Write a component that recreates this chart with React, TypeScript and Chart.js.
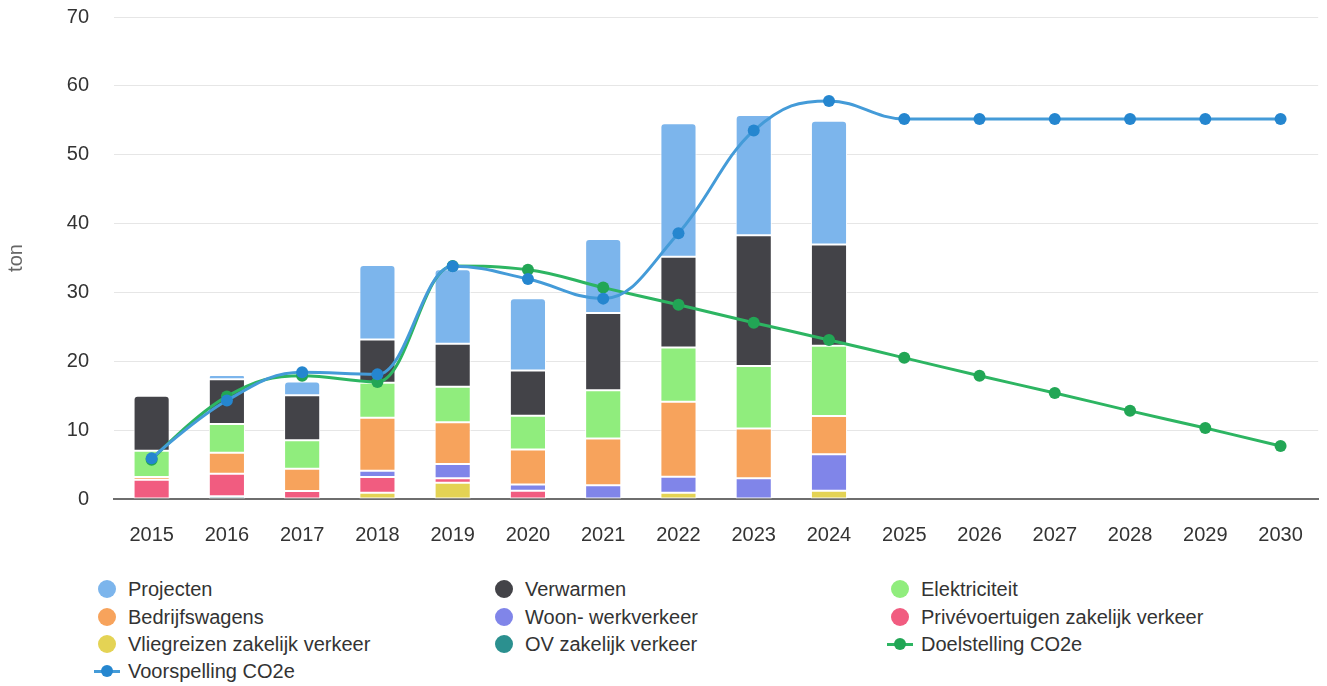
import React, { useEffect, useRef } from 'react';
import { Chart, registerables } from 'chart.js';

Chart.register(...registerables);

const years = ['2015', '2016', '2017', '2018', '2019', '2020', '2021', '2022', '2023', '2024', '2025', '2026', '2027', '2028', '2029', '2030'];

// Stacked bar components (bottom to top)
const ovZakelijk = [0, 0.4, 0, 0, 0, 0, 0, 0, 0, 0, null, null, null, null, null, null];
const vliegreizen = [0, 0, 0, 0.9, 2.35, 0, 0, 0.9, 0, 1.2, null, null, null, null, null, null];
const privevoertuigen = [2.8, 3.25, 1.15, 2.3, 0.65, 1.2, 0, 0, 0, 0, null, null, null, null, null, null];
const woonWerk = [0, 0, 0, 0.9, 2.1, 0.9, 2.0, 2.32, 3.0, 5.3, null, null, null, null, null, null];
const bedrijfswagens = [0.4, 3.05, 3.25, 7.7, 6.05, 5.1, 6.8, 10.9, 7.25, 5.55, null, null, null, null, null, null];
const elektriciteit = [3.8, 4.2, 4.15, 5.1, 5.15, 4.9, 7.0, 7.9, 9.05, 10.2, null, null, null, null, null, null];
const verwarmen = [8.0, 6.5, 6.5, 6.25, 6.25, 6.55, 11.2, 13.15, 19.0, 14.7, null, null, null, null, null, null];
const projecten = [0, 0.6, 2.0, 10.85, 10.8, 10.5, 10.75, 19.4, 17.45, 18.0, null, null, null, null, null, null];

// Lines
const voorspelling = [5.9, 14.3, 18.4, 18.1, 33.8, 31.95, 29.1, 38.6, 53.5, 57.8, 55.2, 55.2, 55.2, 55.2, 55.2, 55.2];
const doelstelling = [5.7, 14.9, 17.9, 17.0, 33.85, 33.3, 30.7, 28.2, 25.6, 23.1, 20.5, 17.9, 15.4, 12.8, 10.3, 7.7];

const yTicks = [0, 10, 20, 30, 40, 50, 60, 70];

const FONT = '"Liberation Sans", Arial, Helvetica, sans-serif';

const barSeries = [
  { label: 'OV zakelijk verkeer', data: ovZakelijk, color: '#2b908f' },
  { label: 'Vliegreizen zakelijk verkeer', data: vliegreizen, color: '#e4d354' },
  { label: 'Privévoertuigen zakelijk verkeer', data: privevoertuigen, color: '#f15c80' },
  { label: 'Woon- werkverkeer', data: woonWerk, color: '#8085e9' },
  { label: 'Bedrijfswagens', data: bedrijfswagens, color: '#f7a35c' },
  { label: 'Elektriciteit', data: elektriciteit, color: '#90ed7d' },
  { label: 'Verwarmen', data: verwarmen, color: '#434348' },
  { label: 'Projecten', data: projecten, color: '#7cb5ec' },
];

const lineSeries = [
  { label: 'Doelstelling CO2e', data: doelstelling, line: '#2db562', point: '#22a655', order: 1 },
  { label: 'Voorspelling CO2e', data: voorspelling, line: '#449bd8', point: '#2586cf', order: 0 },
];

const legendItems = [
  { label: 'Projecten', color: '#7cb5ec', kind: 'dot' },
  { label: 'Verwarmen', color: '#434348', kind: 'dot' },
  { label: 'Elektriciteit', color: '#90ed7d', kind: 'dot' },
  { label: 'Bedrijfswagens', color: '#f7a35c', kind: 'dot' },
  { label: 'Woon- werkverkeer', color: '#8085e9', kind: 'dot' },
  { label: 'Privévoertuigen zakelijk verkeer', color: '#f15c80', kind: 'dot' },
  { label: 'Vliegreizen zakelijk verkeer', color: '#e4d354', kind: 'dot' },
  { label: 'OV zakelijk verkeer', color: '#2b908f', kind: 'dot' },
  { label: 'Doelstelling CO2e', color: '#2db562', point: '#22a655', kind: 'line' },
  { label: 'Voorspelling CO2e', color: '#449bd8', point: '#2586cf', kind: 'line' },
];

const legendColX = [107, 504, 900];
const legendRowY = [589, 616.5, 644, 671];

function topRadius(ctx: any) {
  const i = ctx.dataIndex;
  let top = -1;
  ctx.chart.data.datasets.forEach((ds: any, di: number) => {
    if (ds.type === 'bar' && ds.data[i]) top = di;
  });
  return ctx.datasetIndex === top ? { topLeft: 4, topRight: 4, bottomLeft: 0, bottomRight: 0 } : 0;
}

// Spline smoothing in the style of the source chart (control points at 1/2.5 of the
// neighbour distance, clamped so no false extremes appear between points).
const splinePlugin = {
  id: 'splineSmoothing',
  beforeDatasetDraw(chart: any, args: any) {
    const meta = args.meta;
    if (meta.type !== 'line' || !meta.dataset) return;
    const line = meta.dataset;
    if (typeof line.updateControlPoints === 'function') line.updateControlPoints(chart.chartArea, 'x');
    const pts = meta.data;
    const n = pts.length;
    const sm = 1.5;
    const den = sm + 1;
    for (let i = 0; i < n; i++) {
      const p = pts[i];
      if (i === 0 || i === n - 1) {
        p.cp1x = p.x; p.cp1y = p.y; p.cp2x = p.x; p.cp2y = p.y;
        continue;
      }
      const l = pts[i - 1];
      const nx = pts[i + 1];
      const lcx = (sm * p.x + l.x) / den;
      let lcy = (sm * p.y + l.y) / den;
      const rcx = (sm * p.x + nx.x) / den;
      let rcy = (sm * p.y + nx.y) / den;
      let corr = 0;
      if (rcx !== lcx) corr = ((rcy - lcy) * (rcx - p.x)) / (rcx - lcx) + p.y - rcy;
      lcy += corr;
      rcy += corr;
      if (lcy > l.y && lcy > p.y) { lcy = Math.max(l.y, p.y); rcy = 2 * p.y - lcy; }
      else if (lcy < l.y && lcy < p.y) { lcy = Math.min(l.y, p.y); rcy = 2 * p.y - lcy; }
      if (rcy > nx.y && rcy > p.y) { rcy = Math.max(nx.y, p.y); lcy = 2 * p.y - rcy; }
      else if (rcy < nx.y && rcy < p.y) { rcy = Math.min(nx.y, p.y); lcy = 2 * p.y - rcy; }
      p.cp1x = lcx; p.cp1y = lcy; p.cp2x = rcx; p.cp2y = rcy;
    }
    line._path = undefined;
  },
};

export default function App() {
  const ref = useRef<HTMLCanvasElement | null>(null);

  useEffect(() => {
    if (!ref.current) return;
    const datasets: any[] = [
      ...barSeries.map((s) => ({
        type: 'bar',
        label: s.label,
        data: s.data,
        backgroundColor: s.color,
        borderColor: '#ffffff',
        borderWidth: 1,
        borderSkipped: false,
        borderRadius: topRadius,
        stack: 'bars',
        order: 2,
        barPercentage: 0.48,
        categoryPercentage: 1,
      })),
      ...lineSeries.map((s) => ({
        type: 'line',
        label: s.label,
        data: s.data,
        borderColor: s.line,
        backgroundColor: s.point,
        pointBackgroundColor: s.point,
        pointBorderWidth: 0,
        pointRadius: 6,
        borderWidth: 3,
        tension: 0.4,
        fill: false,
        stack: 'line-' + s.label,
        order: s.order,
      })),
    ];

    const chart = new Chart(ref.current, {
      type: 'bar',
      data: { labels: years, datasets },
      plugins: [splinePlugin],
      options: {
        animation: false,
        responsive: false,
        devicePixelRatio: 1,
        layout: { padding: { top: 17, right: 5, left: 0, bottom: 0 } },
        plugins: {
          legend: { display: false },
          tooltip: { enabled: false },
        },
        scales: {
          x: {
            stacked: true,
            grid: { display: false, drawTicks: false },
            border: { display: true, color: '#6e6e6e', width: 2 },
            ticks: { color: '#333333', font: { family: FONT, size: 20 }, padding: 24, maxRotation: 0, autoSkip: false },
            afterFit: (scale: any) => { scale.height = 61; scale.paddingTop = 0; },
          },
          y: {
            stacked: true,
            min: yTicks[0],
            max: yTicks[yTicks.length - 1],
            afterBuildTicks: (scale: any) => { scale.ticks = yTicks.map((v) => ({ value: v })); },
            grid: { color: '#e6e6e6', drawTicks: false, lineWidth: 1 },
            border: { display: false },
            ticks: { color: '#333333', font: { family: FONT, size: 20 }, padding: 25 },
            title: { display: true, text: 'ton', color: '#666666', font: { family: FONT, size: 20 }, padding: { top: 4, bottom: 0 } },
            afterFit: (scale: any) => { scale.width = 114; scale.paddingTop = 0; scale.paddingBottom = 0; },
          },
        },
      },
    });
    return () => chart.destroy();
  }, []);

  return (
    <div style={{ position: 'absolute', left: 0, top: 0, width: 1327, height: 686, background: '#fff', fontFamily: FONT }}>
      <canvas ref={ref} width={1327} height={560} style={{ width: 1327, height: 560, display: 'block' }} />
      {legendItems.map((it, idx) => {
        const col = idx % 3;
        const row = Math.floor(idx / 3);
        const cx = legendColX[col];
        const cy = legendRowY[row];
        return (
          <div key={it.label} style={{ position: 'absolute', left: cx - 13, top: cy - 14, height: 28, display: 'flex', alignItems: 'center', whiteSpace: 'nowrap' }}>
            <div style={{ position: 'relative', width: 26, height: 28, flex: 'none' }}>
              {it.kind === 'dot' ? (
                <div style={{ position: 'absolute', left: 4, top: 5, width: 18, height: 18, borderRadius: 9, background: it.color }} />
              ) : (
                <>
                  <div style={{ position: 'absolute', left: 0, top: 12.5, width: 26, height: 3, background: it.color }} />
                  <div style={{ position: 'absolute', left: 7, top: 8, width: 12, height: 12, borderRadius: 6, background: (it as any).point }} />
                </>
              )}
            </div>
            <span style={{ marginLeft: 8, fontSize: 20, color: '#333333', lineHeight: '28px' }}>{it.label}</span>
          </div>
        );
      })}
    </div>
  );
}
